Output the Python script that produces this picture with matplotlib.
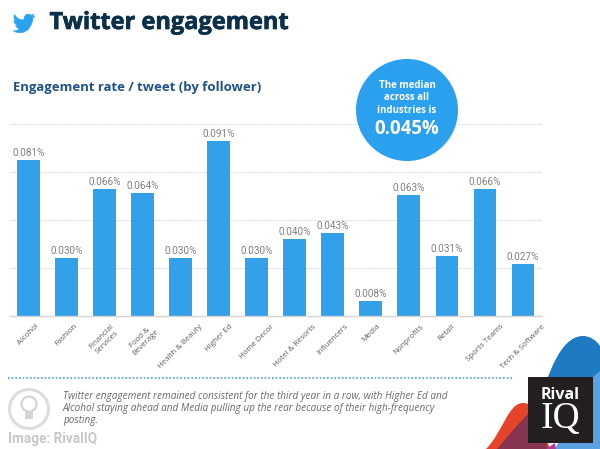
import matplotlib
matplotlib.use("Agg")
import matplotlib.pyplot as plt
import matplotlib.patheffects as pe
from matplotlib.patches import Circle, Rectangle, PathPatch, Polygon
from matplotlib.path import Path

categories = ["Alcohol", "Fashion", "Financial\nServices", "Food &\nBeverage", "Health & Beauty",
              "Higher Ed", "Home Decor", "Hotel & Resorts", "Influencers", "Media",
              "Nonprofits", "Retail", "Sports Teams", "Tech & Software"]
values = [0.081, 0.030, 0.066, 0.064, 0.030, 0.091, 0.030, 0.040, 0.043, 0.008, 0.063, 0.031, 0.066, 0.027]
grid_ticks = [0.025, 0.05, 0.075, 0.1]
title = "Twitter engagement"
subtitle = "Engagement rate / tweet (by follower)"
caption = ["Twitter engagement remained consistent for the third year in a row, with Higher Ed and",
           "Alcohol staying ahead and Media pulling up the rear because of their high-frequency",
           "posting."]

W, H = 600, 449
plt.rcParams["font.family"] = ["Open Sans", "DejaVu Sans"]
fig = plt.figure(figsize=(W / 100, H / 100), dpi=100, facecolor="white")

# main chart
ax = fig.add_axes([9.5 / W, 1 - 316 / H, 532.5 / W, 192 / H])
x = list(range(len(values)))
ax.bar(x, values, width=0.6, color="#33A1EA", zorder=2)
ax.set_xlim(-0.5, len(values) - 0.5)
ax.set_ylim(0, 0.1)
ax.set_yticks(grid_ticks)
ax.set_yticklabels([])
ax.tick_params(length=0)
ax.grid(axis="y", color="#D2D2D2", linestyle=(0, (1, 1)), linewidth=0.8, zorder=1)
for s in ["top", "left", "right"]:
    ax.spines[s].set_visible(False)
ax.spines["bottom"].set_color("#D5D5D5")
ax.spines["bottom"].set_linewidth(1)
ax.set_facecolor("none")
ax.set_xticks(x)
ax.set_xticklabels(categories, rotation=45, ha="center", va="top",
                   fontsize=5.7, color="#5C5C5C", linespacing=1.15)
ax.tick_params(axis="x", pad=5)
for xi, v in zip(x, values):
    ax.annotate(f"{v:.3f}%", (xi, v), xytext=(0, 1.5), textcoords="offset points", ha="center",
                va="bottom", fontsize=7.2, color="#808080", family=["Roboto", "DejaVu Sans"])

# overlay in pixel coordinates
ov = fig.add_axes([0, 0, 1, 1], zorder=5)
ov.set_xlim(0, W)
ov.set_ylim(H, 0)
ov.axis("off")

# decorative blobs
def blob(pts, color, z):
    codes = [Path.MOVETO] + [Path.CURVE4] * (len(pts) - 2) + [Path.CLOSEPOLY]
    ov.add_patch(PathPatch(Path(pts, codes), fc=color, ec="none", zorder=z))

blob([(540, 400), (548, 376), (560, 336), (583, 336), (590, 336), (596, 340), (600, 346),
      (600, 380), (600, 400), (600, 420), (580, 420), (560, 410), (540, 400), (540, 400)], "#1F7AC4", 1)
blob([(593, 377), (595, 375), (598, 373), (600, 371), (600, 400), (600, 425), (600, 449),
      (585, 449), (570, 449), (555, 449), (570, 420), (585, 400), (593, 377), (593, 377)], "#5BA0E0", 2)
blob([(486, 449), (503, 432), (508, 403), (523, 403), (526, 403), (529, 404), (531, 406),
      (540, 420), (545, 435), (550, 449), (530, 449), (505, 449), (486, 449), (486, 449)], "#E5442B", 3)
blob([(497, 449), (508, 436), (518, 424), (528, 414), (535, 420), (543, 435), (548, 449),
      (535, 449), (515, 449), (497, 449), (497, 449), (497, 449), (497, 449), (497, 449)], "#86344F", 4)
ov.add_patch(Polygon([(546, 449), (555, 443), (556, 449)], closed=True, fc="#B0408F", ec="none", zorder=4))

# logo
ov.add_patch(Rectangle((527.5, 377), 65.5, 66, fc="#231F20", ec="none", zorder=6))
ov.text(560.5, 395, "Rival", color="white", fontsize=11.5, fontweight="bold", ha="center", va="center", zorder=7)
ov.text(560.5, 428, "IQ", color="white", fontsize=27, ha="center", va="baseline", zorder=7,
        family=["Liberation Serif", "DejaVu Serif"])

# twitter bird
bird_u = [24, 21.1, 23.3, 20.2, 18.5, 16.6, 14, 12.4, 11.9, 12, 7.7, 4.1, 1.64, 1, 0.97, 1.5, 3.16, 0.93, 0.93,
          1.5, 2.5, 4.88, 2.67, 3.6, 5.3, 7.27, 4.5, 1.17, 0, 3.5, 7.56, 12, 16.6, 20, 21.56, 21.56, 21.56]
bird_v = [4.6, 5.35, 2.6, 3.8, 3, 2.6, 3.4, 5.2, 7.5, 8.6, 8.1, 6.1, 3.16, 4.8, 5.64, 7.9, 9.73, 9.12, 9.18,
          11.4, 12.6, 14, 14.09, 15.7, 17, 17.5, 19, 19.6, 19.54, 21.2, 21.75, 21, 18.5, 13.5, 9.5, 7.77, 7.14]
bird = [(13 + u * 22 / 24, 14 + (v - 2.6) * 0.99) for u, v in zip(bird_u, bird_v)]
ov.add_patch(Polygon(bird, closed=True, fc="#2AA3EF", ec="#2AA3EF", lw=0.3, zorder=3))

ov.text(49.5, 23, title, fontsize=17, fontweight="bold", color="#0C2F4A", ha="left", va="center",
        path_effects=[pe.withStroke(linewidth=0.5, foreground="#0C2F4A")])
ov.text(13, 88, subtitle, fontsize=9.42, fontweight="bold", color="#1F5289", ha="left", va="center")

# median circle
ov.add_patch(Circle((407, 110), 51, fc="#2AA0EE", ec="none", zorder=6))
for txt, yy in [("The median", 86), ("across all", 98), ("industries is", 110.5)]:
    ov.text(407, yy, txt, fontsize=7.0, fontweight="bold", color="white", ha="center", va="center", zorder=7)
ov.text(407, 129, "0.045%", fontsize=13.4, fontweight="bold", color="white", ha="center", va="center", zorder=7)

# dotted rule
ov.plot([8, 512], [377.5, 377.5], color="#4E9FE0", lw=1.2, linestyle=(0, (1, 1.2)))

# caption
for line, yy in zip(caption, [397, 409, 421]):
    ov.text(63, yy, line, fontsize=7.18, style="italic", color="#6A6A6A", ha="left", va="center")

# bulb icon + watermark
ov.add_patch(Circle((29, 409), 19.5, fc="none", ec="#DDDDDD", lw=2.2))
ov.add_patch(Circle((29, 404), 7.5, fc="none", ec="#D5D5D5", lw=1.6))
ov.add_patch(Rectangle((25, 412), 8, 7, fc="#D5D5D5", ec="none"))
ov.text(8.5, 439, "Image: RivalIQ", fontsize=9.8, fontweight="bold", color="#C8C8C8", ha="left", va="center",
        family=["Roboto", "DejaVu Sans"])

fig.savefig("out.png", dpi=100)
